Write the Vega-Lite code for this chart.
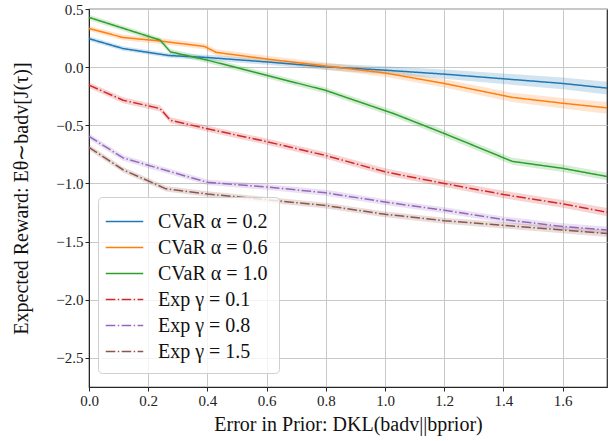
{
  "$schema": "https://vega.github.io/schema/vega-lite/v6.json",
  "width": 518,
  "height": 378,
  "autosize": {"type": "none"},
  "padding": {"left": 89, "top": 9, "right": 6, "bottom": 54},
  "background": "white",
  "config": {
    "view": {"stroke": "#262626", "strokeWidth": 1.2},
    "font": "Liberation Serif",
    "axis": {
      "labelFont": "Liberation Serif",
      "titleFont": "Liberation Serif",
      "labelFontSize": 15,
      "titleFontSize": 20,
      "titleFontWeight": "normal",
      "labelColor": "#222",
      "titleColor": "#111",
      "gridColor": "#c8c8c8",
      "gridWidth": 1,
      "domainColor": "#262626",
      "tickColor": "#262626",
      "tickSize": 4,
      "labelFlush": false
    },
    "legend": {
      "labelFont": "Liberation Serif",
      "labelFontSize": 20,
      "labelColor": "#111",
      "orient": "none",
      "legendX": 9,
      "legendY": 188,
      "symbolType": "M-1.5,0H1.5",
      "symbolSize": 625,
      "symbolStrokeWidth": 1.5,
      "symbolOpacity": 1,
      "symbolOffset": 2,
      "fillColor": "rgba(255,255,255,0.8)",
      "strokeColor": "#d0d0d0",
      "cornerRadius": 4,
      "padding": 11,
      "rowPadding": 2,
      "labelOffset": 20
    }
  },
  "data": {
    "values": [
      {"s": "CVaR α = 0.2", "x": 0, "y": 0.245, "lo": 0.225, "hi": 0.265},
      {"s": "CVaR α = 0.2", "x": 0.115, "y": 0.16, "lo": 0.14, "hi": 0.18},
      {"s": "CVaR α = 0.2", "x": 0.27, "y": 0.10, "lo": 0.08, "hi": 0.12},
      {"s": "CVaR α = 0.2", "x": 0.4, "y": 0.083, "lo": 0.06, "hi": 0.106},
      {"s": "CVaR α = 0.2", "x": 0.6, "y": 0.045, "lo": 0.02, "hi": 0.07},
      {"s": "CVaR α = 0.2", "x": 0.8, "y": 0.003, "lo": -0.025, "hi": 0.031},
      {"s": "CVaR α = 0.2", "x": 1.0, "y": -0.026, "lo": -0.06, "hi": 0.008},
      {"s": "CVaR α = 0.2", "x": 1.2, "y": -0.06, "lo": -0.1, "hi": -0.02},
      {"s": "CVaR α = 0.2", "x": 1.4, "y": -0.10, "lo": -0.145, "hi": -0.055},
      {"s": "CVaR α = 0.2", "x": 1.6, "y": -0.14, "lo": -0.19, "hi": -0.09},
      {"s": "CVaR α = 0.2", "x": 1.75, "y": -0.18, "lo": -0.235, "hi": -0.125},
      {"s": "CVaR α = 0.6", "x": 0, "y": 0.333, "lo": 0.31, "hi": 0.356},
      {"s": "CVaR α = 0.6", "x": 0.115, "y": 0.255, "lo": 0.232, "hi": 0.278},
      {"s": "CVaR α = 0.6", "x": 0.24, "y": 0.225, "lo": 0.2, "hi": 0.25},
      {"s": "CVaR α = 0.6", "x": 0.39, "y": 0.178, "lo": 0.153, "hi": 0.203},
      {"s": "CVaR α = 0.6", "x": 0.43, "y": 0.127, "lo": 0.1, "hi": 0.154},
      {"s": "CVaR α = 0.6", "x": 0.6, "y": 0.07, "lo": 0.042, "hi": 0.098},
      {"s": "CVaR α = 0.6", "x": 0.8, "y": 0.01, "lo": -0.02, "hi": 0.04},
      {"s": "CVaR α = 0.6", "x": 1.0, "y": -0.05, "lo": -0.082, "hi": -0.018},
      {"s": "CVaR α = 0.6", "x": 1.2, "y": -0.14, "lo": -0.175, "hi": -0.105},
      {"s": "CVaR α = 0.6", "x": 1.43, "y": -0.26, "lo": -0.3, "hi": -0.22},
      {"s": "CVaR α = 0.6", "x": 1.6, "y": -0.31, "lo": -0.355, "hi": -0.265},
      {"s": "CVaR α = 0.6", "x": 1.75, "y": -0.35, "lo": -0.4, "hi": -0.3},
      {"s": "CVaR α = 1.0", "x": 0, "y": 0.428, "lo": 0.405, "hi": 0.451},
      {"s": "CVaR α = 1.0", "x": 0.24, "y": 0.233, "lo": 0.21, "hi": 0.256},
      {"s": "CVaR α = 1.0", "x": 0.275, "y": 0.132, "lo": 0.108, "hi": 0.156},
      {"s": "CVaR α = 1.0", "x": 0.4, "y": 0.06, "lo": 0.035, "hi": 0.085},
      {"s": "CVaR α = 1.0", "x": 0.6, "y": -0.07, "lo": -0.095, "hi": -0.045},
      {"s": "CVaR α = 1.0", "x": 0.8, "y": -0.2, "lo": -0.226, "hi": -0.174},
      {"s": "CVaR α = 1.0", "x": 0.88, "y": -0.27, "lo": -0.297, "hi": -0.243},
      {"s": "CVaR α = 1.0", "x": 1.03, "y": -0.4, "lo": -0.428, "hi": -0.372},
      {"s": "CVaR α = 1.0", "x": 1.2, "y": -0.57, "lo": -0.6, "hi": -0.54},
      {"s": "CVaR α = 1.0", "x": 1.43, "y": -0.81, "lo": -0.84, "hi": -0.78},
      {"s": "CVaR α = 1.0", "x": 1.6, "y": -0.87, "lo": -0.902, "hi": -0.838},
      {"s": "CVaR α = 1.0", "x": 1.75, "y": -0.94, "lo": -0.972, "hi": -0.908},
      {"s": "Exp γ = 0.1", "x": 0, "y": -0.155, "lo": -0.18, "hi": -0.13},
      {"s": "Exp γ = 0.1", "x": 0.115, "y": -0.284, "lo": -0.31, "hi": -0.258},
      {"s": "Exp γ = 0.1", "x": 0.24, "y": -0.356, "lo": -0.382, "hi": -0.33},
      {"s": "Exp γ = 0.1", "x": 0.275, "y": -0.457, "lo": -0.483, "hi": -0.431},
      {"s": "Exp γ = 0.1", "x": 0.4, "y": -0.53, "lo": -0.556, "hi": -0.504},
      {"s": "Exp γ = 0.1", "x": 0.6, "y": -0.64, "lo": -0.667, "hi": -0.613},
      {"s": "Exp γ = 0.1", "x": 0.8, "y": -0.76, "lo": -0.788, "hi": -0.732},
      {"s": "Exp γ = 0.1", "x": 1.0, "y": -0.9, "lo": -0.93, "hi": -0.87},
      {"s": "Exp γ = 0.1", "x": 1.2, "y": -1.0, "lo": -1.03, "hi": -0.97},
      {"s": "Exp γ = 0.1", "x": 1.4, "y": -1.095, "lo": -1.127, "hi": -1.063},
      {"s": "Exp γ = 0.1", "x": 1.6, "y": -1.175, "lo": -1.208, "hi": -1.142},
      {"s": "Exp γ = 0.1", "x": 1.75, "y": -1.247, "lo": -1.282, "hi": -1.212},
      {"s": "Exp γ = 0.8", "x": 0, "y": -0.595, "lo": -0.62, "hi": -0.57},
      {"s": "Exp γ = 0.8", "x": 0.115, "y": -0.78, "lo": -0.804, "hi": -0.756},
      {"s": "Exp γ = 0.8", "x": 0.24, "y": -0.873, "lo": -0.897, "hi": -0.849},
      {"s": "Exp γ = 0.8", "x": 0.4, "y": -0.99, "lo": -1.014, "hi": -0.966},
      {"s": "Exp γ = 0.8", "x": 0.6, "y": -1.03, "lo": -1.054, "hi": -1.006},
      {"s": "Exp γ = 0.8", "x": 0.8, "y": -1.08, "lo": -1.105, "hi": -1.055},
      {"s": "Exp γ = 0.8", "x": 1.0, "y": -1.16, "lo": -1.185, "hi": -1.135},
      {"s": "Exp γ = 0.8", "x": 1.2, "y": -1.23, "lo": -1.256, "hi": -1.204},
      {"s": "Exp γ = 0.8", "x": 1.4, "y": -1.31, "lo": -1.337, "hi": -1.283},
      {"s": "Exp γ = 0.8", "x": 1.6, "y": -1.37, "lo": -1.398, "hi": -1.342},
      {"s": "Exp γ = 0.8", "x": 1.75, "y": -1.40, "lo": -1.43, "hi": -1.37},
      {"s": "Exp γ = 1.5", "x": 0, "y": -0.69, "lo": -0.714, "hi": -0.666},
      {"s": "Exp γ = 1.5", "x": 0.115, "y": -0.882, "lo": -0.906, "hi": -0.858},
      {"s": "Exp γ = 1.5", "x": 0.26, "y": -1.046, "lo": -1.07, "hi": -1.022},
      {"s": "Exp γ = 1.5", "x": 0.4, "y": -1.09, "lo": -1.114, "hi": -1.066},
      {"s": "Exp γ = 1.5", "x": 0.6, "y": -1.14, "lo": -1.164, "hi": -1.116},
      {"s": "Exp γ = 1.5", "x": 0.8, "y": -1.19, "lo": -1.215, "hi": -1.165},
      {"s": "Exp γ = 1.5", "x": 1.0, "y": -1.265, "lo": -1.29, "hi": -1.24},
      {"s": "Exp γ = 1.5", "x": 1.2, "y": -1.32, "lo": -1.346, "hi": -1.294},
      {"s": "Exp γ = 1.5", "x": 1.4, "y": -1.36, "lo": -1.387, "hi": -1.333},
      {"s": "Exp γ = 1.5", "x": 1.6, "y": -1.40, "lo": -1.428, "hi": -1.372},
      {"s": "Exp γ = 1.5", "x": 1.75, "y": -1.43, "lo": -1.46, "hi": -1.40}
    ]
  },
  "encoding": {
    "x": {
      "field": "x", "type": "quantitative",
      "scale": {"domain": [0, 1.75], "nice": false, "zero": false},
      "axis": {"values": [0, 0.2, 0.4, 0.6, 0.8, 1.0, 1.2, 1.4, 1.6], "format": ".1f", "title": "Error in Prior: DKL(badv||bprior)", "titlePadding": 6}
    }
  },
  "layer": [
    {
      "mark": {"type": "area", "opacity": 0.2},
      "encoding": {
        "y": {"field": "lo", "type": "quantitative",
          "scale": {"domain": [-2.75, 0.5], "nice": false, "zero": false},
          "axis": {"values": [0.5, 0, -0.5, -1, -1.5, -2, -2.5], "format": ".1f", "title": "Expected Reward: Eθ∼badv[J(τ)]", "titlePadding": 24}},
        "y2": {"field": "hi"},
        "fill": {"field": "s", "type": "nominal", "title": null,
          "scale": {"domain": ["CVaR α = 0.2", "CVaR α = 0.6", "CVaR α = 1.0", "Exp γ = 0.1", "Exp γ = 0.8", "Exp γ = 1.5"],
                    "range": ["#1f77b4", "#ff7f0e", "#2ca02c", "#d62728", "#9467bd", "#8c564b"]}}
      }
    },
    {
      "mark": {"type": "line", "strokeWidth": 1.5},
      "encoding": {
        "y": {"field": "y", "type": "quantitative"},
        "stroke": {"field": "s", "type": "nominal", "title": null,
          "scale": {"domain": ["CVaR α = 0.2", "CVaR α = 0.6", "CVaR α = 1.0", "Exp γ = 0.1", "Exp γ = 0.8", "Exp γ = 1.5"],
                    "range": ["#1f77b4", "#ff7f0e", "#2ca02c", "#d62728", "#9467bd", "#8c564b"]}},
        "strokeDash": {"field": "s", "type": "nominal", "title": null,
          "scale": {"domain": ["CVaR α = 0.2", "CVaR α = 0.6", "CVaR α = 1.0", "Exp γ = 0.1", "Exp γ = 0.8", "Exp γ = 1.5"],
                    "range": [[1, 0], [1, 0], [1, 0], [9.6, 2.4, 1.5, 2.4], [9.6, 2.4, 1.5, 2.4], [9.6, 2.4, 1.5, 2.4]]}},
        "detail": {"field": "s"}
      }
    }
  ]
}
